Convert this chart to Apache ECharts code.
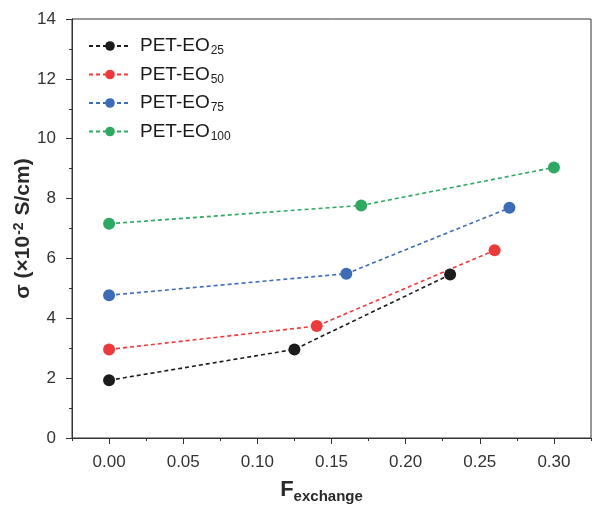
<!DOCTYPE html>
<html>
<head>
<meta charset="utf-8">
<script src="https://cdn.jsdelivr.net/npm/echarts@6/dist/echarts.min.js"></script>
<style>
html, body { margin: 0; padding: 0; background: #fff; }
#chart { width: 592px; height: 508px; }
</style>
</head>
<body>
<div id="chart"></div>
<script>
// values
var seriesNames = ['PET-EO25', 'PET-EO50', 'PET-EO75', 'PET-EO100'];
var seriesSubs = ['25', '50', '75', '100'];
var eo25 = [[0, 1.93], [0.125, 2.96], [0.23, 5.46]];
var eo50 = [[0, 2.96], [0.14, 3.74], [0.26, 6.27]];
var eo75 = [[0, 4.77], [0.16, 5.49], [0.27, 7.69]];
var eo100 = [[0, 7.16], [0.17, 7.77], [0.30, 9.04]];
var xTicks = [0, 0.05, 0.10, 0.15, 0.20, 0.25, 0.30];
var colors = ['#1c1c1c', '#ec3a3c', '#3d6cb7', '#2fa862'];

var font = "'Liberation Sans', Arial, sans-serif";
var axisColor = '#333';

function makeSeries(name, data, color) {
	return {
		name: name,
		type: 'line',
		data: data,
		symbol: 'circle',
		symbolSize: 12,
		itemStyle: { color: color },
		lineStyle: { color: color, width: 1.6, type: [4, 3] },
		z: 3
	};
}

var chart = echarts.init(document.getElementById('chart'));
chart.setOption({
	backgroundColor: '#fff',
	animation: false,
	grid: {
		left: 72, right: 1, top: 19, bottom: 70,
		containLabel: false,
		outerBoundsMode: 'none',
		show: true, borderColor: axisColor, borderWidth: 1
	},
	legend: {
		left: 88, top: 30,
		padding: 0,
		orient: 'vertical',
		itemWidth: 42, itemHeight: 12,
		itemGap: 1.5,
		data: seriesNames,
		formatter: function (name) {
			var i = seriesNames.indexOf(name);
			return '{a|PET-EO}{b|' + seriesSubs[i] + '}';
		},
		textStyle: {
			fontFamily: font,
			rich: {
				a: { fontSize: 19, lineHeight: 22, color: '#1a1a1a', fontFamily: font, padding: [0, 0, 0, 4] },
				b: { fontSize: 12, lineHeight: 12, color: '#1a1a1a', fontFamily: font, verticalAlign: 'bottom', padding: [15, 0, 0, 1] }
			}
		}
	},
	xAxis: [{
		type: 'value',
		min: -0.025, max: 0.325,
		axisLine: { onZero: false, lineStyle: { color: axisColor, width: 1 } },
		axisTick: { customValues: xTicks, length: 6, inside: false, lineStyle: { color: axisColor } },
		axisLabel: {
			customValues: xTicks,
			margin: 16,
			fontSize: 17, color: '#333', fontFamily: font,
			formatter: function (v) { return v.toFixed(2); }
		},
		splitLine: { show: false },
		name: '{f|F}{s|exchange}',
		nameLocation: 'middle',
		nameGap: 38,
		nameMoveOverlap: false,
		nameTextStyle: {
			padding: [0, 20, 0, 0],
			rich: {
				f: { fontSize: 22, fontWeight: 'bold', color: '#2a2a2a', fontFamily: font },
				s: { fontSize: 15, fontWeight: 'bold', color: '#2a2a2a', fontFamily: font, verticalAlign: 'bottom', padding: [13, 0, 0, 0] }
			}
		}
	}, {
		type: 'value',
		position: 'bottom',
		min: -0.025, max: 0.325, interval: 0.025,
		axisLine: { show: false },
		axisTick: { length: 3, lineStyle: { color: axisColor } },
		axisLabel: { show: false },
		splitLine: { show: false }
	}],
	yAxis: {
		type: 'value',
		min: 0, max: 14, interval: 2,
		axisLine: { show: true, onZero: false, lineStyle: { color: axisColor, width: 1 } },
		axisTick: { show: true, length: 6, lineStyle: { color: axisColor } },
		minorTick: { show: true, splitNumber: 2, length: 3, lineStyle: { color: axisColor } },
		axisLabel: { margin: 16, fontSize: 17, color: '#333', fontFamily: font },
		splitLine: { show: false },
		name: '{a|σ (×10}{s|-2}{a| S/cm)}',
		nameLocation: 'middle',
		nameGap: 38,
		nameMoveOverlap: false,
		nameRotate: 90,
		nameTextStyle: {
			rich: {
				a: { fontSize: 21, fontWeight: 'bold', color: '#2a2a2a', fontFamily: font },
				s: { fontSize: 14, fontWeight: 'bold', color: '#2a2a2a', fontFamily: font, verticalAlign: 'top', padding: [0, 1, 8, 1] }
			}
		}
	},
	series: [
		makeSeries(seriesNames[0], eo25, colors[0]),
		makeSeries(seriesNames[1], eo50, colors[1]),
		makeSeries(seriesNames[2], eo75, colors[2]),
		makeSeries(seriesNames[3], eo100, colors[3])
	]
});
</script>
</body>
</html>
